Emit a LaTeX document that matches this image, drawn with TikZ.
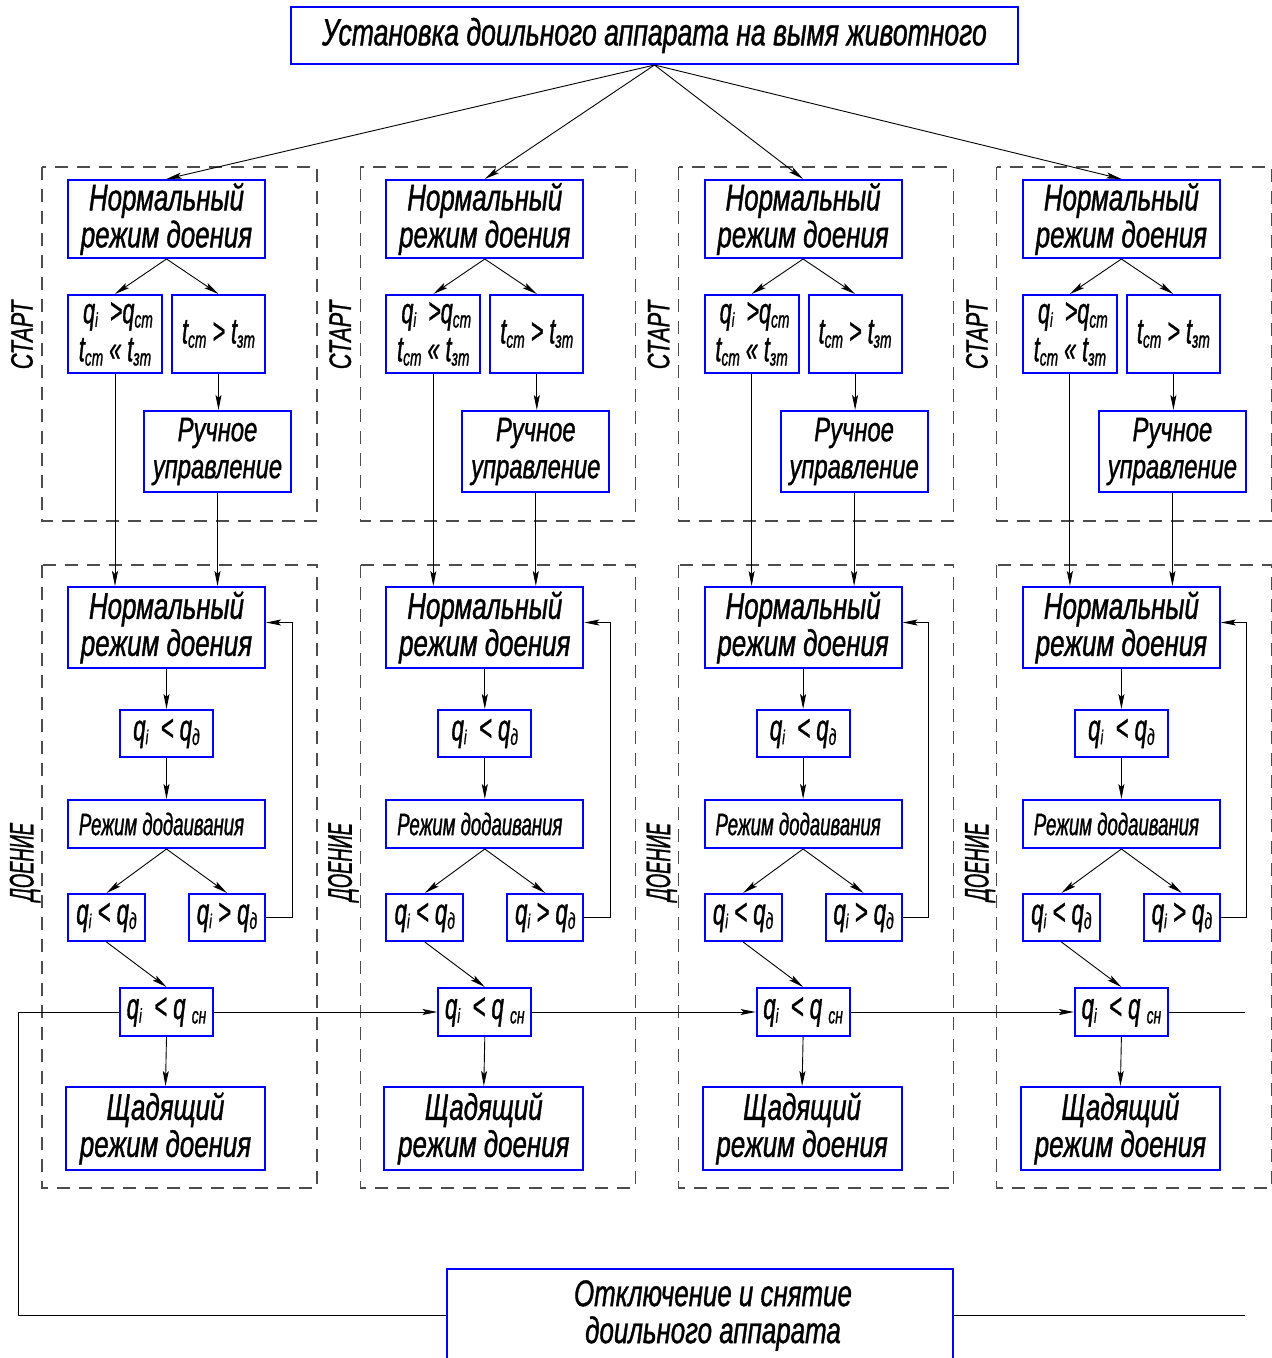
\documentclass[tikz,border=0pt]{standalone}
\usepackage{fontspec}
\setmainfont{Liberation Sans}[FakeStretch=0.7,FakeBold=1]
\newfontfamily\narrow{Liberation Sans}[FakeStretch=0.6,FakeBold=1]
\usetikzlibrary{arrows.meta,calc}
\newcommand\sbs[1]{\raisebox{-0.12em}{\fontsize{23}{23}\selectfont #1}}
\newcommand\sbi[1]{\raisebox{-0.1em}{\fontsize{20}{20}\selectfont #1}}
\begin{document}
\begin{tikzpicture}[x=1pt,y=-1pt,
  bx/.style={draw=blue, line width=2pt, fill=white, inner sep=0pt, align=center, font=\itshape\fontsize{37}{37}\selectfont},
  fm/.style={font=\narrow\itshape\fontsize{36}{38}\selectfont},
  fq/.style={font=\narrow\itshape\fontsize{37}{37}\selectfont},
  zone/.style={draw=black!70, line width=1.1pt, dash pattern=on 13pt off 9pt},
  ln/.style={line width=0.9pt},
  ar/.style={ln, -{Stealth[length=15pt,width=6pt,inset=3pt]}},
  lbl/.style={rotate=90, font=\itshape\fontsize{31}{31}\selectfont}
]
\useasboundingbox (0,0) rectangle (1272,1358);
\node[bx, font=\itshape\fontsize{38}{38}\selectfont, minimum width=727pt, minimum height=57pt] (U) at (654.5,35.5) {Установка доильного аппарата на вымя животного};
\foreach \c in {0,1,2,3}{
  \pgfmathsetmacro\X{42+\c*318.3}
  \draw[zone] (\X,167) rectangle ({\X+275},521);
  \draw[zone] (\X,565) rectangle ({\X+275},1188);
  \node[lbl] (st-\c) at ({\X-20},335) {СТАРТ};
  \node[lbl, font=\narrow\itshape\fontsize{34}{34}\selectfont] (do-\c) at ({\X-17},862) {\scalebox{0.9}[1]{ДОЕНИЕ}};
  \node[bx, minimum width=197pt, minimum height=78pt] (N1-\c) at ({\X+124.5},219) {Нормальный\\режим доения};
  \node[bx, fm, minimum width=94pt, minimum height=78pt] (Q-\c) at ({\X+73},334) {\hspace*{6pt}q\sbi{i}\, >q\sbs{ст}\\t\sbs{ст} « t\sbs{зт}};
  \node[bx, fm, minimum width=93pt, minimum height=78pt] (T-\c) at ({\X+176.5},334) {t\sbs{ст} > t\sbs{зт}};
  \node[bx, font=\itshape\fontsize{34}{37}\selectfont, minimum width=147pt, minimum height=81pt] (R-\c) at ({\X+175.5},451.5) {Ручное\\управление};
  \node[bx, minimum width=197pt, minimum height=81pt] (N2-\c) at ({\X+124.5},627.5) {Нормальный\\режим доения};
  \node[bx, fq, minimum width=93pt, minimum height=47pt] (A-\c) at ({\X+124.5},733.5) {q\sbi{i}\, < q\sbs{д}};
  \node[bx, font=\narrow\itshape\fontsize{31}{31}\selectfont, minimum width=197pt, minimum height=48pt] (D-\c) at ({\X+124.5},824) {Режим додаивания\hspace*{10pt}};
  \node[bx, fq, minimum width=77pt, minimum height=47pt] (L-\c) at ({\X+64.5},917.5) {q\sbi{i} < q\sbs{д}};
  \node[bx, fq, minimum width=76pt, minimum height=47pt] (G-\c) at ({\X+185},917.5) {q\sbi{i} > q\sbs{д}};
  \node[bx, fq, minimum width=93pt, minimum height=48pt] (S-\c) at ({\X+124.5},1012) {q\sbi{i}\, < q \sbs{сн}};
  \node[bx, minimum width=199pt, minimum height=83pt] (W-\c) at ({\X+123.5},1128.5) {Щадящий\\режим доения};
  \draw[ar] (U.south) -- (N1-\c.north);
  \draw[ar] (N1-\c.south) -- (Q-\c.north);
  \draw[ar] (N1-\c.south) -- (T-\c.north);
  \draw[ar] (T-\c.south) -- (T-\c.south |- R-\c.north);
  \draw[ar] (R-\c.south) -- (R-\c.south |- N2-\c.north);
  \draw[ar] (Q-\c.south) -- (Q-\c.south |- N2-\c.north);
  \draw[ar] (N2-\c.south) -- (A-\c.north);
  \draw[ar] (A-\c.south) -- (D-\c.north);
  \draw[ar] (D-\c.south) -- (L-\c.north);
  \draw[ar] (D-\c.south) -- (G-\c.north);
  \draw[ar] (L-\c.south) -- (S-\c.north);
  \draw[ar] (S-\c.south) -- (W-\c.north);
  \draw[ar] (G-\c.east) -- ++(26,0) |- ([yshift=5pt]N2-\c.east);
}
\node[bx, minimum width=506pt, minimum height=93pt] (B) at (700,1315.5) {\hspace*{26pt}Отключение и снятие\\\hspace*{26pt}доильного аппарата};
\coordinate (lc) at (18,1012);
\coordinate (re) at (1245,1012);
\draw[ln] (lc) -- (S-0.west);
\foreach \c/\d in {0/1,1/2,2/3}{\draw[ar] (S-\c.east) -- (S-\d.west);}
\draw[ln] (S-3.east) -- (re);
\draw[ln] (lc) |- (B.west);
\draw[ln] (B.east) -- (B.east -| re);
\end{tikzpicture}
\end{document}
